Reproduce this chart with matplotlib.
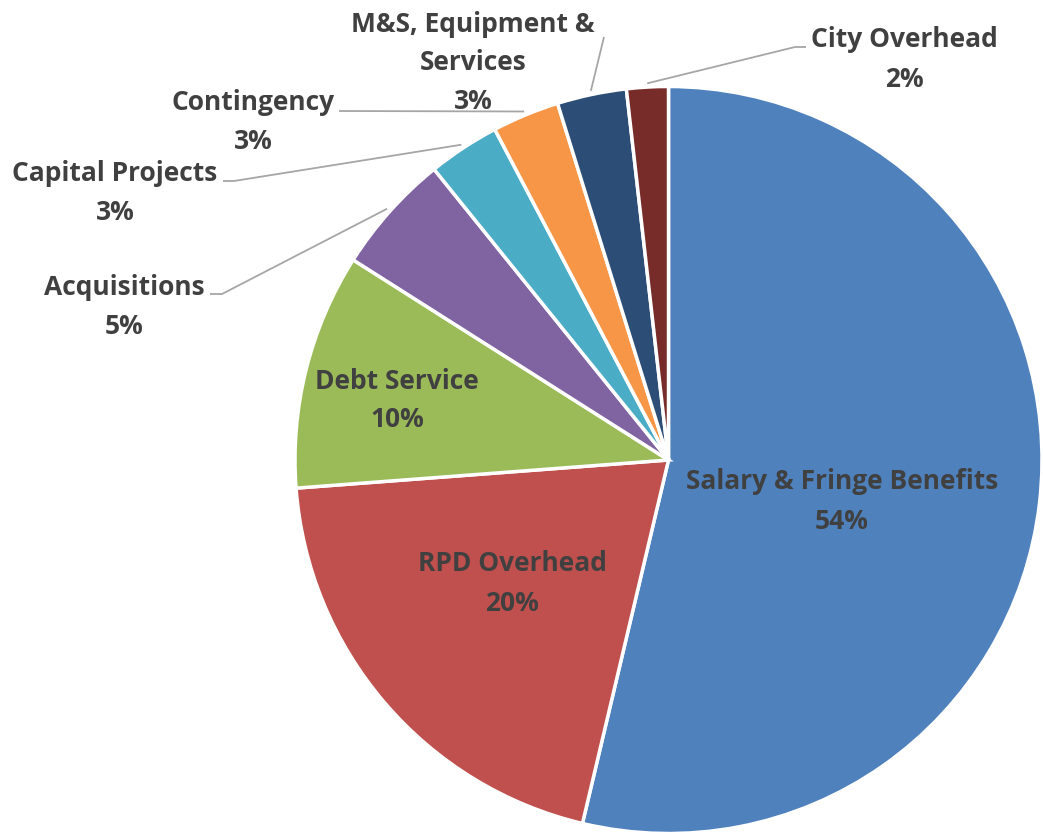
import numpy as np
import matplotlib
matplotlib.use("Agg")
import matplotlib.pyplot as plt

categories = ["Salary & Fringe Benefits", "RPD Overhead", "Debt Service", "Acquisitions",
              "Capital Projects", "Contingency", "M&S, Equipment &\nServices", "City Overhead"]
values = [53.7, 20.1, 10.2, 5.2, 3.1, 2.9, 3.0, 1.8]
pct_labels = ["54%", "20%", "10%", "5%", "3%", "3%", "3%", "2%"]
colors = ["#4F81BD", "#C0504D", "#9BBB59", "#8064A2", "#4BACC6", "#F79646", "#2C4D75", "#772C2A"]

W, H = 1043, 835
CX, CY, R = 668.5, 460.0, 373.5

def P(px, py):
    return ((px - CX) / R, (CY - py) / R)

fig = plt.figure(figsize=(W / 100, H / 100), dpi=100)
ax = fig.add_axes([0, 0, 1, 1])

wedges, _ = ax.pie(values, colors=colors, startangle=90, counterclock=False, radius=1.0,
                   wedgeprops=dict(edgecolor="white", linewidth=2.5))
ax.set_aspect("auto")
ax.set_xlim(P(0, 0)[0], P(W, 0)[0])
ax.set_ylim(P(0, H)[1], P(0, 0)[1])
ax.axis("off")

FONT = dict(family="Open Sans", weight="bold", color="#404040", fontsize=19)

def label(lines, xc, ycs):
    for t, yc in zip(lines, ycs):
        x, y = P(xc, yc + 9)
        ax.text(x, y, t, ha="center", va="baseline", **FONT)

# Inside labels
label([categories[0], pct_labels[0]], 842, [480, 520])
label([categories[1], pct_labels[1]], 512, [562, 602])
label([categories[2], pct_labels[2]], 397, [380, 418])

# Outside labels
label([categories[3], pct_labels[3]], 124.5, [286, 325])
label([categories[4], pct_labels[4]], 115, [172, 211])
label([categories[5], pct_labels[5]], 253, [101, 140])
m1, m2 = categories[6].split("\n")
label([m1, m2, pct_labels[6]], 473, [23, 61, 100])
label([categories[7], pct_labels[7]], 904, [38, 78])

# Leader lines from wedge mid-angles
ends = {3: [(222, 294), (210, 294)],
        4: [(234, 181), (223, 181)],
        5: [(339, 111)],
        6: [(604, 37)],
        7: [(795, 47), (806, 47)]}
for i, pts in ends.items():
    w = wedges[i]
    ang = np.deg2rad((w.theta1 + w.theta2) / 2)
    xs = [1.01 * np.cos(ang)] + [P(*p)[0] for p in pts]
    ys = [1.01 * np.sin(ang)] + [P(*p)[1] for p in pts]
    ax.plot(xs, ys, color="#A6A6A6", lw=1.3, solid_capstyle="butt")

fig.savefig("out.png", dpi=100)
